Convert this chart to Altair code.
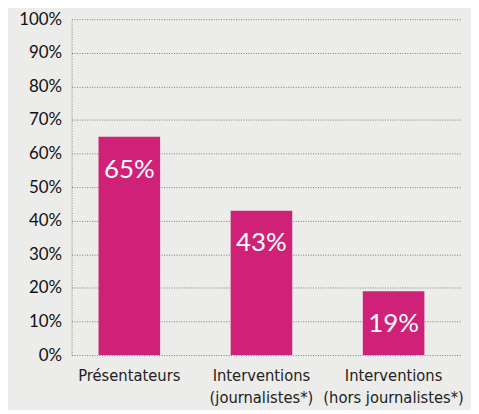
import altair as alt
import pandas as pd

categories = ["Présentateurs", "Interventions\n(journalistes*)", "Interventions\n(hors journalistes*)"]
values = [0.65, 0.43, 0.19]
labels = ["65%", "43%", "19%"]
tick_values = [0, 0.1, 0.2, 0.3, 0.4, 0.5, 0.6, 0.7, 0.8, 0.9, 1.0]

df = pd.DataFrame({"cat": categories, "value": values, "label": labels})

FONT = "Lato"
XFONT = "DejaVu Sans Condensed"

x = alt.X("cat:N", sort=None, title=None,
          scale=alt.Scale(paddingInner=0.534, paddingOuter=0.237, align=0.43),
          axis=alt.Axis(labelAngle=0, ticks=False, domain=False, labelPadding=13,
                        labelFont=XFONT, labelFontSize=16.5, labelColor="#222222",
                        labelLineHeight=22, labelBaseline="top", labelOverlap=False,
                        labelExpr="split(datum.label, '\\n')"))
y = alt.Y("value:Q", title=None,
          scale=alt.Scale(domain=[0, 1]),
          axis=alt.Axis(format=".0%", values=tick_values, ticks=False, labelOverlap=False,
                        labelPadding=10, labelFont=FONT, labelFontSize=17, labelColor="#111111",
                        domain=True, domainColor="#7a7a7a", domainDash=[1, 1.5], domainWidth=1,
                        grid=True, gridColor="#7a7a7a", gridDash=[1, 1.5], gridWidth=1,
                        gridOpacity=1))

bars = alt.Chart(df).mark_bar(color="#D02178").encode(x=x, y=y)
text = alt.Chart(df).mark_text(color="white", font=FONT, fontSize=26, baseline="top", dy=20).encode(
    x=x, y=y, text="label:N")

chart = (bars + text).properties(
    width=391, height=338,
    background="#ECECEA",
    padding={"left": 10, "top": 1, "right": 7, "bottom": 2},
).configure_view(stroke=None)

chart.save("out.html", embed_options={"renderer": "svg", "actions": False})
